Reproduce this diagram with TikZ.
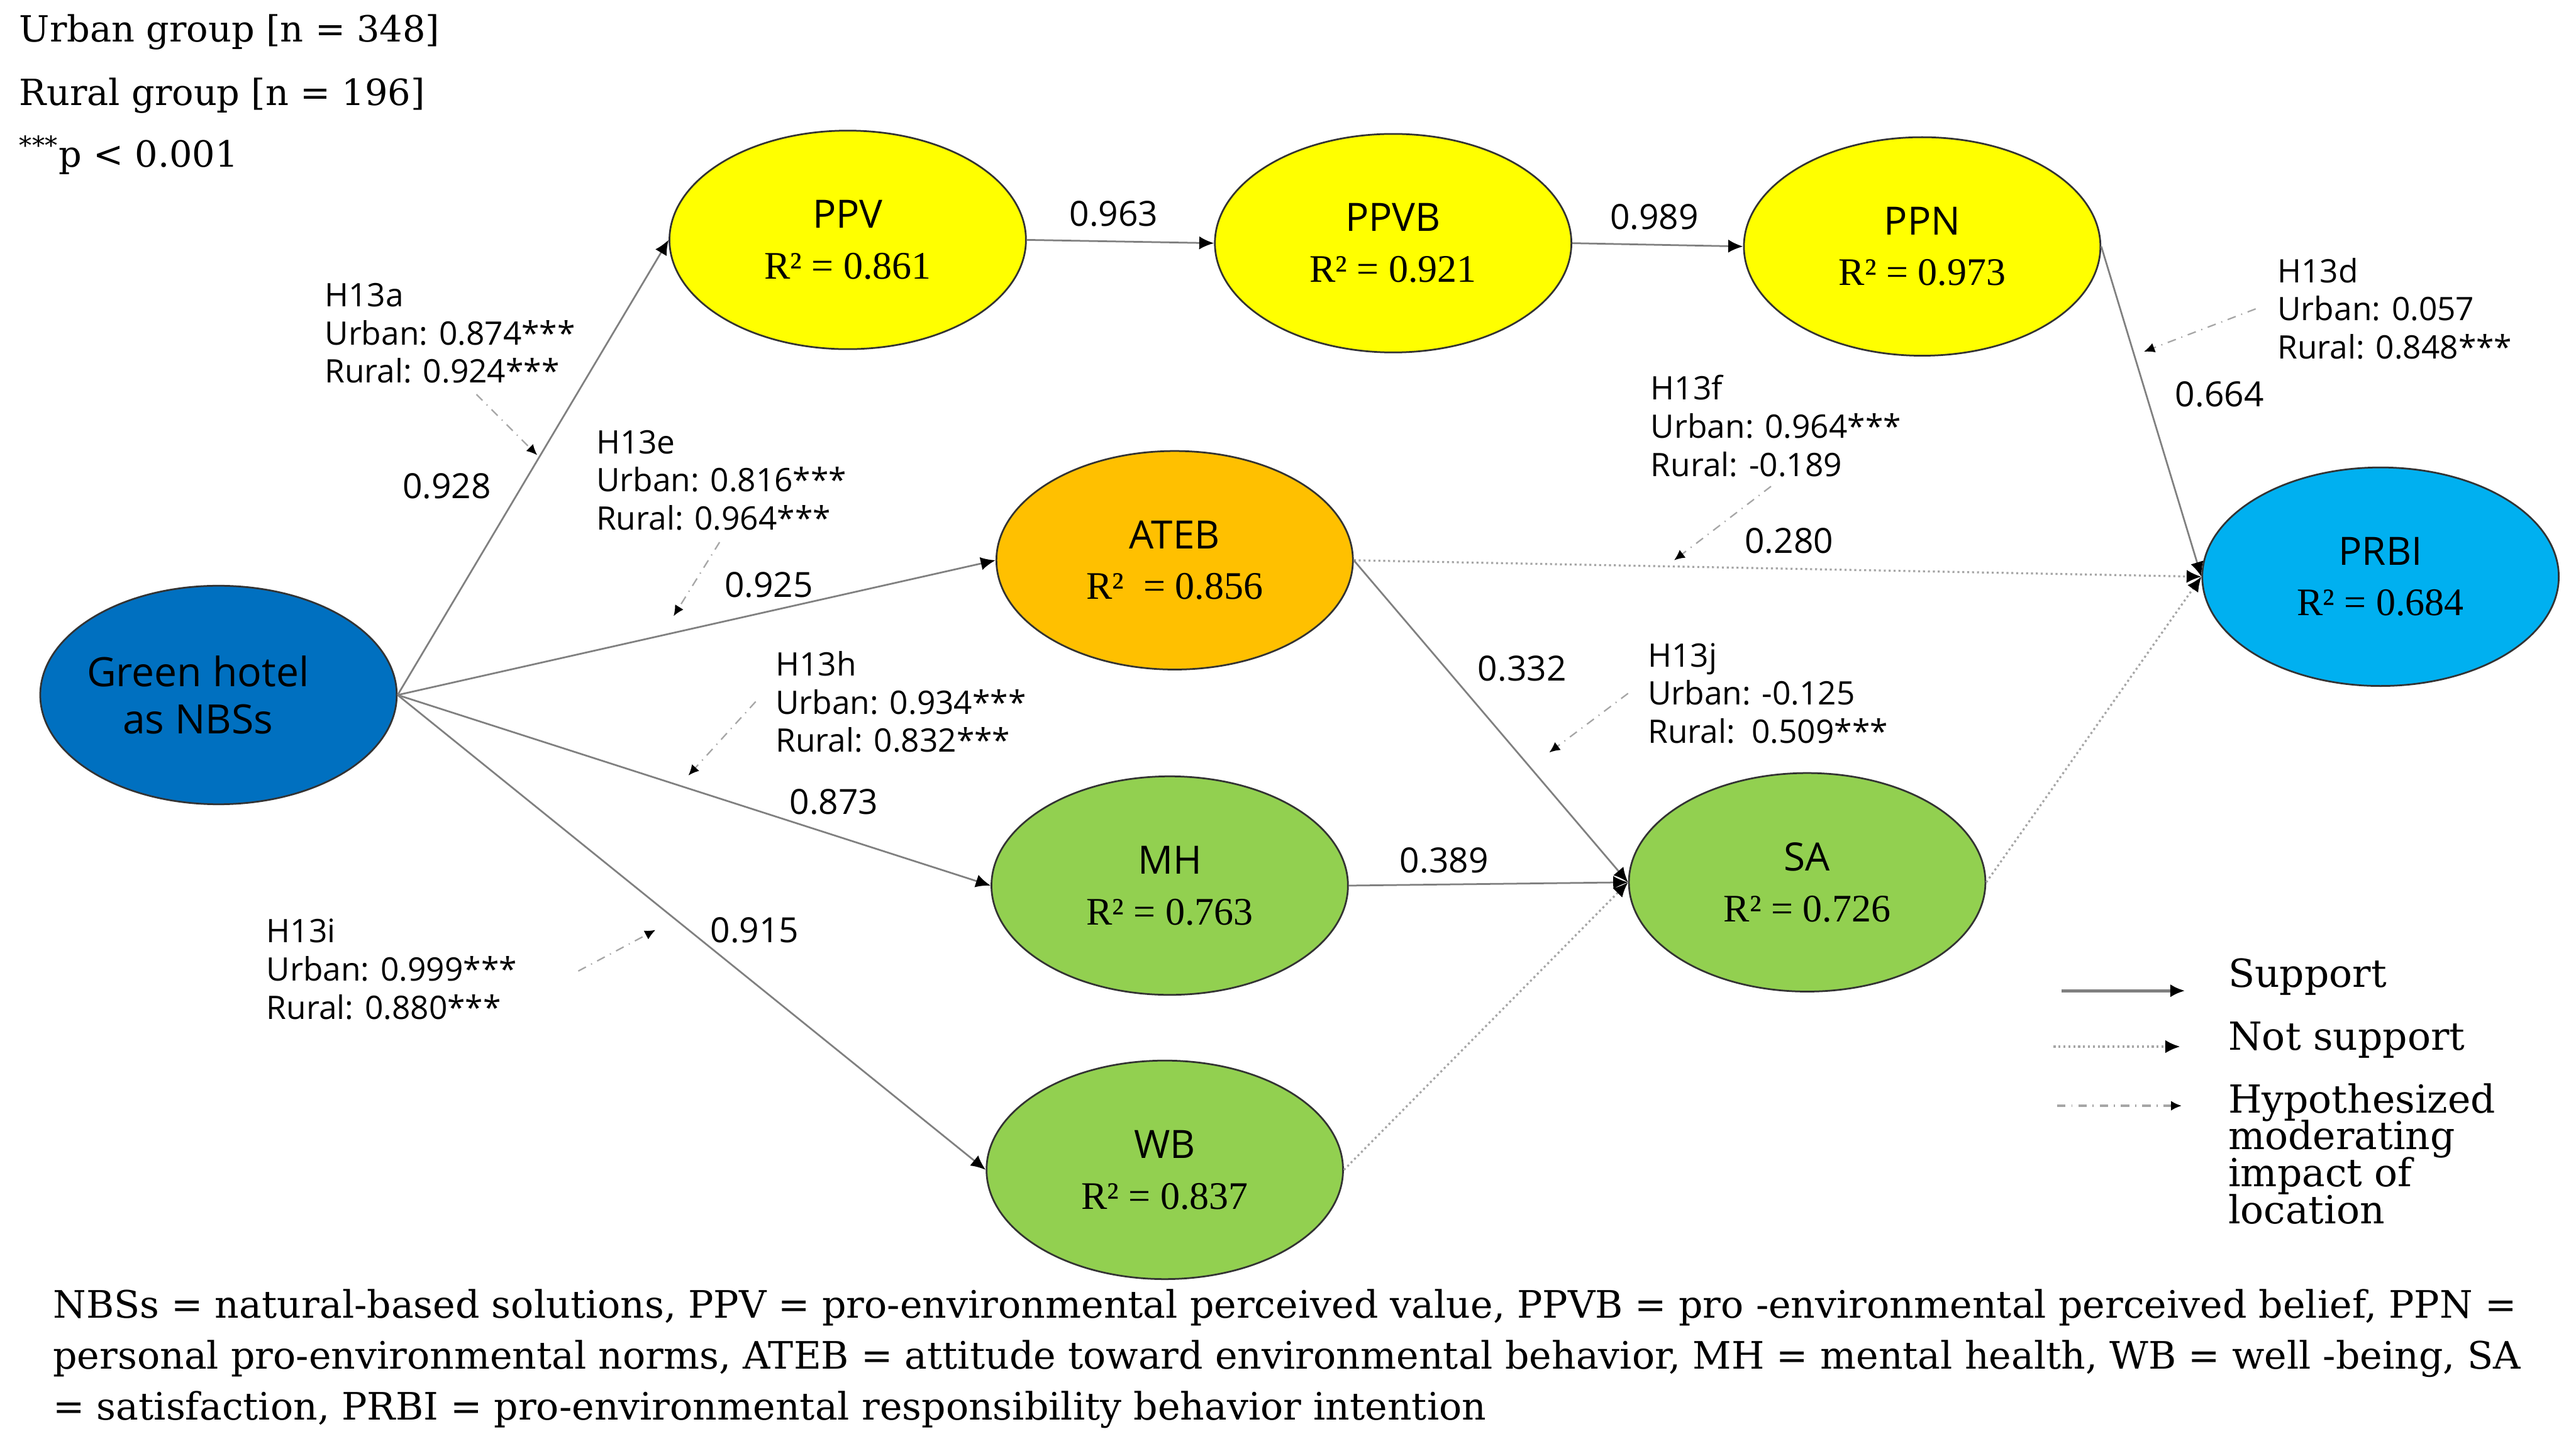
\documentclass[tikz,border=0pt]{standalone}
\usepackage{fontspec}
\setmainfont{DejaVu Serif}
\setsansfont{Open Sans}
\newfontfamily\rsqfont{Liberation Serif}
\usetikzlibrary{arrows.meta, shapes.geometric}

\definecolor{nbsblue}{HTML}{0070C0}
\definecolor{valyellow}{HTML}{FFFF00}
\definecolor{atborange}{HTML}{FFC000}
\definecolor{prbicyan}{HTML}{00B0F0}
\definecolor{wellgreen}{HTML}{92D050}
\definecolor{pathgray}{HTML}{808080}

\newcommand{\tightlines}{\lineskiplimit=-20pt\relax}

\begin{document}
\begin{tikzpicture}[
  x=0.2mm,
  y=0.2mm,
  >={Latex[length=1.8mm, width=1.6mm, color=black]},
  construct/.style={draw=black!80, ellipse, line width=0.6pt, align=center,
    inner sep=0pt, minimum width=43.4mm, minimum height=26.6mm,
    font=\sffamily\fontsize{13.5}{17.6}\selectfont},
  coef/.style={inner sep=0pt, font=\sffamily\fontsize{12}{14}\selectfont},
  hyp/.style={anchor=north west, align=left, inner sep=0pt,
    font=\sffamily\fontsize{11.2}{13.2}\selectfont},
  note/.style={anchor=base west, inner sep=0pt, font=\fontsize{12.5}{16}\selectfont},
  support/.style={->, draw=pathgray, line width=0.6pt},
  nosupport/.style={->, draw=pathgray!70, densely dotted, line width=0.7pt},
  moderate/.style={-{Latex[length=1.3mm, width=1.2mm, color=black]},
    draw=pathgray!70, dash dot, line width=0.5pt}
]
  \useasboundingbox (0,0) rectangle (1568,-880);

  % Group sizes and significance key.
  \node[note] at (11.5,-25.6)  (urban) {Urban group [n = 348]};
  \node[note] at (11.5,-64)    (rural) {Rural group [n = 196]};
  \node[note] at (11.5,-101.6) (sig)   {\textsuperscript{***}p < 0.001};

  % Constructs of the structural model.
  \node[construct, fill=nbsblue, inner xsep=-3mm,
    font=\sffamily\fontsize{14}{16.3}\selectfont]
    at (133,-423)  (gh)   {Green hotel\hspace*{5mm}\\as NBSs\hspace*{5mm}};
  \node[construct, fill=valyellow] at (516,-146)  (ppv)  {PPV\\\rsqfont R² = 0.861};
  \node[construct, fill=valyellow] at (848,-148)  (ppvb) {PPVB\\\rsqfont R² = 0.921};
  \node[construct, fill=valyellow] at (1170,-150) (ppn)  {PPN\\\rsqfont R² = 0.973};
  \node[construct, fill=atborange] at (715,-341)  (ateb) {ATEB\\\rsqfont R²\ \ = 0.856};
  \node[construct, fill=prbicyan]  at (1449,-351) (prbi) {PRBI\\\rsqfont R² = 0.684};
  \node[construct, fill=wellgreen] at (712,-539)  (mh)   {MH\\\rsqfont R² = 0.763};
  \node[construct, fill=wellgreen] at (1100,-537) (sa)   {SA\\\rsqfont R² = 0.726};
  \node[construct, fill=wellgreen] at (709,-712)  (wb)   {WB\\\rsqfont R² = 0.837};

  % Structural paths, solid when supported and dotted when not.
  \draw[support]   (gh.east)   -- (ppv.west);
  \draw[support]   (gh.east)   -- (ateb.west);
  \draw[support]   (gh.east)   -- (mh.west);
  \draw[support]   (gh.east)   -- (wb.west);
  \draw[support]   (ppv.east)  -- (ppvb.west);
  \draw[support]   (ppvb.east) -- (ppn.west);
  \draw[support]   (ppn.east)  -- (prbi.west);
  \draw[nosupport] (ateb.east) -- (prbi.west);
  \draw[support]   (ateb.east) -- (sa.west);
  \draw[support]   (mh.east)   -- (sa.west);
  \draw[nosupport] (wb.east)   -- (sa.west);
  \draw[nosupport] (sa.east)   -- (prbi.west);

  \node[coef] at (272,-296)   (c-ppv)   {0.928};
  \node[coef] at (468,-356)   (c-ateb)  {0.925};
  \node[coef] at (507.6,-488) (c-mh)    {0.873};
  \node[coef] at (459.4,-566) (c-wb)    {0.915};
  \node[coef] at (678,-130)   (c-ppvb)  {0.963};
  \node[coef] at (1007,-132)  (c-ppn)   {0.989};
  \node[coef] at (1351,-240)  (c-prbi)  {0.664};
  \node[coef] at (1089,-329)  (c-atpr)  {0.280};
  \node[coef] at (926.5,-407) (c-atsa)  {0.332};
  \node[coef] at (879,-523.6) (c-mhsa)  {0.389};

  % Moderating impact of location on the paths.
  \node[hyp] at (197.4,-172)  (h13a) {H13a\\Urban: 0.874***\\Rural: 0.924***};
  \node[hyp] at (362.6,-261.5)(h13e) {H13e\\Urban: 0.816***\\Rural: 0.964***};
  \node[hyp] at (471.8,-396)  (h13h) {H13h\\Urban: 0.934***\\Rural: 0.832***};
  \node[hyp] at (161.9,-559)  (h13i) {H13i\\Urban: 0.999***\\Rural: 0.880***};
  \node[hyp] at (1386,-156.6) (h13d) {H13d\\Urban: 0.057\\Rural: 0.848***};
  \node[hyp] at (1004.5,-228) (h13f) {H13f\\Urban: 0.964***\\Rural: -0.189};
  \node[hyp] at (1002.7,-391) (h13j) {H13j\\Urban: -0.125\\Rural:\ \ 0.509***};

  \coordinate (m13a-s) at (290,-240);  \coordinate (m13a) at (327,-277);
  \coordinate (m13e-s) at (438,-330);  \coordinate (m13e) at (410,-375);
  \coordinate (m13h-s) at (460,-427);  \coordinate (m13h) at (419,-472);
  \coordinate (m13i-s) at (352,-591);  \coordinate (m13i) at (399,-566);
  \coordinate (m13d-s) at (1373,-188); \coordinate (m13d) at (1305,-214);
  \coordinate (m13f-s) at (1078,-296); \coordinate (m13f) at (1019,-341);
  \coordinate (m13j-s) at (991,-422);  \coordinate (m13j) at (943,-458);

  \draw[moderate] (m13a-s) -- (m13a);
  \draw[moderate] (m13e-s) -- (m13e);
  \draw[moderate] (m13h-s) -- (m13h);
  \draw[moderate] (m13i-s) -- (m13i);
  \draw[moderate] (m13d-s) -- (m13d);
  \draw[moderate] (m13f-s) -- (m13f);
  \draw[moderate] (m13j-s) -- (m13j);

  % Legend of line styles.
  \coordinate (lg1-s) at (1255,-603); \coordinate (lg1-e) at (1330,-603);
  \coordinate (lg2-s) at (1250,-637); \coordinate (lg2-e) at (1327,-637);
  \coordinate (lg3-s) at (1252,-673); \coordinate (lg3-e) at (1328,-673);
  \draw[support, line width=1pt] (lg1-s) -- (lg1-e);
  \draw[nosupport]               (lg2-s) -- (lg2-e);
  \draw[moderate, line width=0.7pt] (lg3-s) -- (lg3-e);
  \node[note, font=\fontsize{13.4}{16}\selectfont] at (1356,-601) (lg-sup) {Support};
  \node[note, font=\fontsize{13.4}{16}\selectfont] at (1356,-639) (lg-not) {Not support};
  \node[note, anchor=north west, align=left,
    font=\fontsize{13.4}{12.8}\selectfont\tightlines]
    at (1356,-659) (lg-mod) {Hypothesized\\moderating\\impact of\\location};

  % Abbreviations.
  \node[note, font=\fontsize{13.1}{17.6}\selectfont] at (32,-802) (abbr1)
    {NBSs = natural-based solutions, PPV = pro-environmental perceived value, PPVB = pro -environmental perceived belief, PPN =};
  \node[note, font=\fontsize{13.1}{17.6}\selectfont] at (32,-833) (abbr2)
    {personal pro-environmental norms, ATEB = attitude toward environmental behavior, MH = mental health, WB = well -being, SA};
  \node[note, font=\fontsize{13.1}{17.6}\selectfont] at (32,-864) (abbr3)
    {= satisfaction, PRBI = pro-environmental responsibility behavior intention};
\end{tikzpicture}
\end{document}
